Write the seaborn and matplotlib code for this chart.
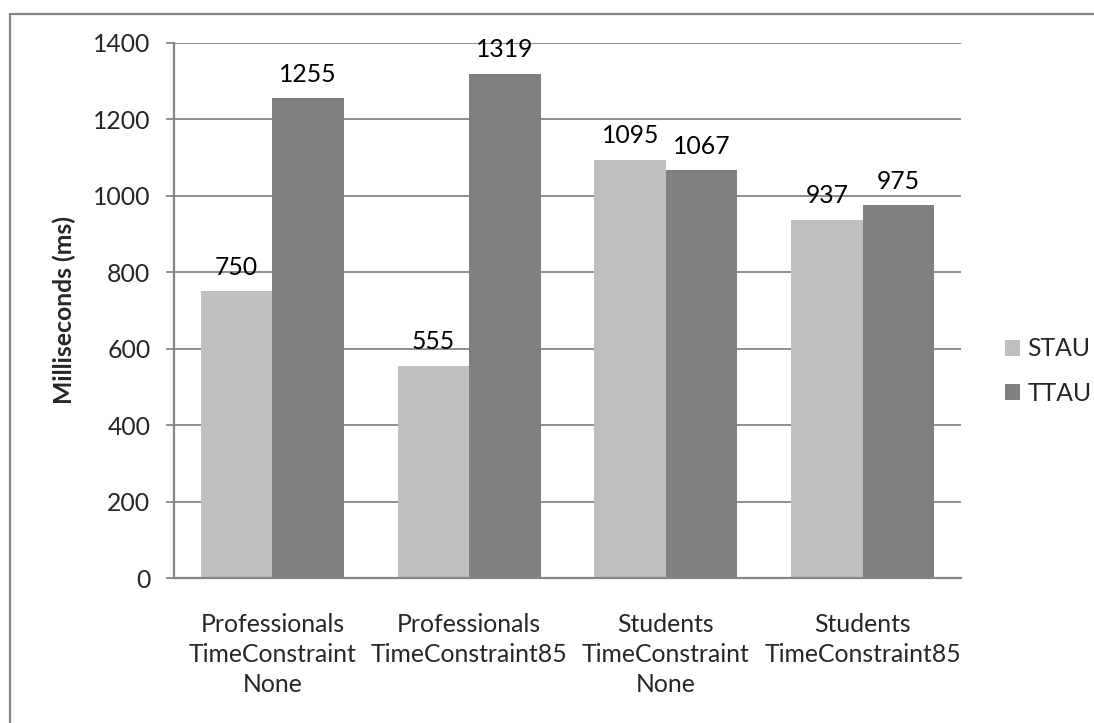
import pandas as pd
import seaborn as sns
import matplotlib.pyplot as plt
from matplotlib.lines import Line2D

# data
groups = ["Professionals\nTimeConstraint\nNone", "Professionals\nTimeConstraint85",
          "Students\nTimeConstraint\nNone", "Students\nTimeConstraint85"]
stau = [750, 555, 1095, 937]
ttau = [1255, 1319, 1067, 975]
series = ["STAU", "TTAU"]
colors = ["#BFBFBF", "#808080"]

df = pd.DataFrame({
    "group": groups * 2,
    "series": ["STAU"] * len(groups) + ["TTAU"] * len(groups),
    "ms": stau + ttau,
})

sns.set_style("white")
plt.rcParams['font.family'] = ['Lato', 'DejaVu Sans']
grid_col = "#868686"
fs = 17.8

fig = plt.figure(figsize=(10.94, 7.23), dpi=100)
ax = fig.add_axes([174 / 1094, 1 - 578 / 723, 787 / 1094, 535 / 723])

sns.barplot(data=df, x="group", y="ms", hue="series", order=groups, hue_order=series,
            palette=colors, width=0.726, saturation=1, edgecolor="none", ax=ax, zorder=2)

for cont in ax.containers:
    ax.bar_label(cont, padding=9, fontsize=fs, color="black")

ax.set_ylim(0, 1400)
ax.set_yticks(range(0, 1401, 200))
ax.set_xlim(-0.5, 3.5)
ax.yaxis.grid(True, color=grid_col, linewidth=1.3, zorder=0)
ax.set_axisbelow(True)
ax.tick_params(axis="y", length=6, width=1.3, color=grid_col, labelsize=fs, pad=11, left=True)
ax.tick_params(axis="x", length=0, labelsize=fs, pad=25)
for lbl in ax.get_xticklabels():
    lbl.set_linespacing(1.38)
for side in ["top", "right"]:
    ax.spines[side].set_visible(False)
for side in ["left", "bottom"]:
    ax.spines[side].set_color(grid_col)
    ax.spines[side].set_linewidth(1.6)
ax.set_xlabel("")
ax.set_ylabel("Milliseconds (ms)", fontsize=fs, fontweight="bold", labelpad=12)

ax.legend(loc="center left", bbox_to_anchor=(988 / 1094, 1 - 371 / 723),
          bbox_transform=fig.transFigure, frameon=False, fontsize=fs,
          handlelength=0.6, handleheight=0.6, handletextpad=0.3, labelspacing=0.85,
          borderpad=0.2)

# chart border (right and bottom sides fall outside the image)
fig.add_artist(Line2D([10 / 1094, 10 / 1094], [0, 1 - 14 / 723], transform=fig.transFigure,
                      color=grid_col, linewidth=1.6))
fig.add_artist(Line2D([10 / 1094, 1], [1 - 14 / 723, 1 - 14 / 723], transform=fig.transFigure,
                      color=grid_col, linewidth=1.6))

fig.savefig("out.png", dpi=100)
